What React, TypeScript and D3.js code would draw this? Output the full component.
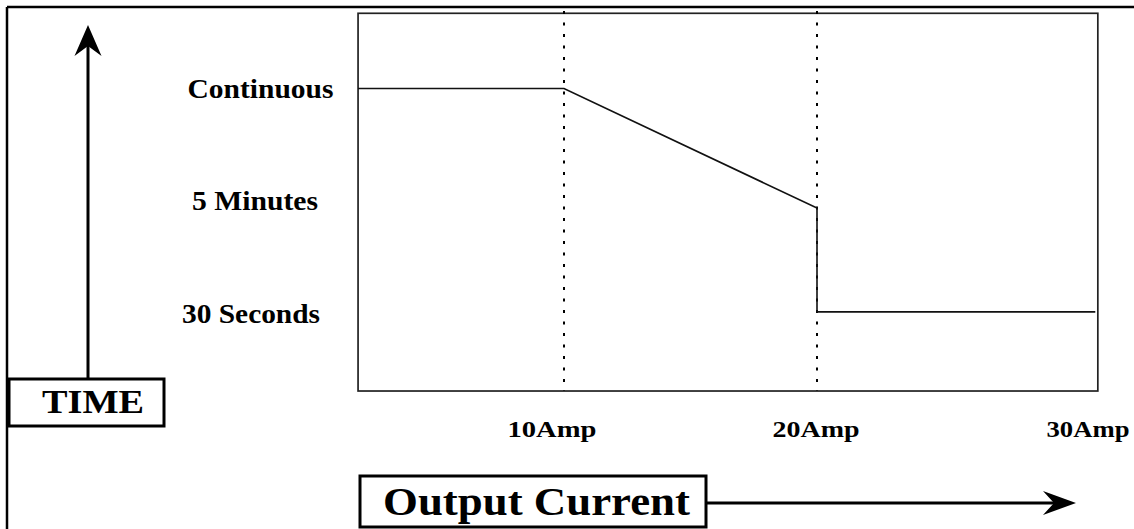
import React from "react";
import * as d3 from "d3";

// ---- data ----
const timeLabels = ["Continuous", "5 Minutes", "30 Seconds"];
const timeValues = [3, 2, 1];
const ampTicks = [10, 20, 30];
const ampLabels = ["10Amp", "20Amp", "30Amp"];
const curveAmps = [1.86, 10, 20, 20, 31.0];
const curveTime = [3, 3, 1.935, 1.01, 1.01];
const guideAmps = [10, 20];
const xTitle = "Output Current";
const yTitle = "TIME";

// ---- layout ----
const W = 1134;
const H = 529;
const FONT = "'Liberation Serif', 'Times New Roman', serif";
const xDomain: [number, number] = [1.86, 31.1];
const yDomain: [number, number] = [0.305, 3.67];
const yLabelX = 255;
const yLabelShift = [5.5, 0, -4];
const yLabelWidths = [146, 126, 138];
const xLabelShift = [-12, -1, 18];
const xLabelWidths = [89, 87, 83];

export default function App() {
  const x = d3.scaleLinear().domain([10, 20]).range([564, 817]);
  const y = d3.scaleLinear().domain([1, 3]).range([313, 88.5]);

  const bx0 = x(xDomain[0]);
  const bx1 = x(xDomain[1]);
  const by0 = y(yDomain[1]);
  const by1 = y(yDomain[0]);

  const line = d3
    .line<number>()
    .x((_, i) => x(curveAmps[i]))
    .y((_, i) => y(curveTime[i]))
    .curve(d3.curveLinear);

  return (
    <svg
      width={W}
      height={H}
      style={{ position: "absolute", left: 0, top: 0, background: "#fff" }}
    >
      {/* outer frame */}
      <line x1={7} y1={7} x2={W} y2={7} stroke="#000" strokeWidth={2.5} />
      <line x1={7} y1={7} x2={7} y2={H} stroke="#000" strokeWidth={2.5} />

      {/* plot box */}
      <rect
        x={bx0}
        y={by0}
        width={bx1 - bx0}
        height={by1 - by0}
        fill="none"
        stroke="#222"
        strokeWidth={1.7}
      />

      {/* dotted guides */}
      {guideAmps.map((a) => (
        <line
          key={a}
          x1={x(a)}
          x2={x(a)}
          y1={11}
          y2={by1}
          stroke="#000"
          strokeWidth={2}
          strokeDasharray="3 8.5"
        />
      ))}

      {/* curve */}
      <path
        d={line(curveAmps) || ""}
        fill="none"
        stroke="#111"
        strokeWidth={1.6}
      />

      {/* y tick labels */}
      {timeLabels.map((t, i) => (
        <text
          key={t}
          x={yLabelX + yLabelShift[i]}
          y={y(timeValues[i]) + 0.5}
          textAnchor="middle"
          dominantBaseline="central"
          fontFamily={FONT}
          fontWeight="bold"
          fontSize={27}
          textLength={yLabelWidths[i]}
          lengthAdjust="spacingAndGlyphs"
          fill="#000"
        >
          {t}
        </text>
      ))}

      {/* x tick labels */}
      {ampTicks.map((a, i) => (
        <text
          key={a}
          x={x(a) + xLabelShift[i]}
          y={437}
          textAnchor="middle"
          fontFamily={FONT}
          fontWeight="bold"
          fontSize={24}
          textLength={xLabelWidths[i]}
          lengthAdjust="spacingAndGlyphs"
          fill="#000"
        >
          {ampLabels[i]}
        </text>
      ))}

      {/* vertical TIME arrow */}
      <line x1={88} y1={40} x2={88} y2={378} stroke="#000" strokeWidth={3} />
      <path d="M88,25 L101.5,56 L88,46 L74.5,56 Z" fill="#000" />
      <rect
        x={9}
        y={379}
        width={155}
        height={47}
        fill="#fff"
        stroke="#000"
        strokeWidth={3}
      />
      <text
        x={42}
        y={413}
        fontFamily={FONT}
        fontWeight="bold"
        fontSize={33}
        textLength={102}
        lengthAdjust="spacingAndGlyphs"
        fill="#000"
      >
        {yTitle}
      </text>

      {/* Output Current */}
      <rect
        x={360}
        y={476}
        width={346}
        height={51}
        fill="#fff"
        stroke="#000"
        strokeWidth={3}
      />
      <text
        x={383}
        y={515}
        fontFamily={FONT}
        fontWeight="bold"
        fontSize={41}
        textLength={307}
        lengthAdjust="spacingAndGlyphs"
        fill="#000"
      >
        {xTitle}
      </text>
      <line x1={707} y1={503} x2={1060} y2={503} stroke="#000" strokeWidth={3} />
      <path d="M1076,503 L1043,491 L1054,503 L1043,515 Z" fill="#000" />
    </svg>
  );
}
